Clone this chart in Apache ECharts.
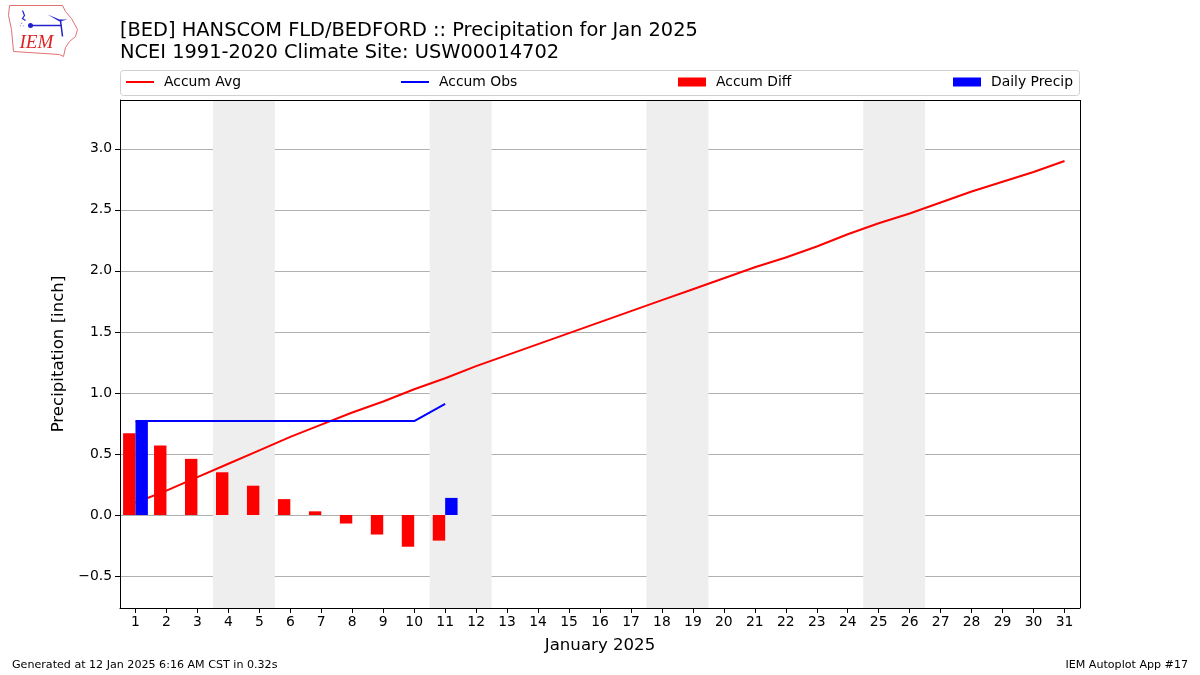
<!DOCTYPE html>
<html>
<head>
<meta charset="utf-8">
<script src="https://cdn.jsdelivr.net/npm/echarts@6/dist/echarts.min.js"></script>
<style>html,body{margin:0;padding:0;background:#fff}#c{width:1200px;height:675px}</style>
</head>
<body>
<div id="c"></div>
<script>
var days = [];
for (var i = 1; i <= 31; i++) days.push(String(i));
var accumAvg = [0.10,0.20,0.31,0.42,0.53,0.64,0.74,0.84,0.93,1.03,1.12,1.22,1.31,1.40,1.49,1.58,1.67,1.76,1.85,1.94,2.03,2.11,2.20,2.30,2.39,2.47,2.56,2.65,2.73,2.81,2.90];
var accumObs = [0.77,0.77,0.77,0.77,0.77,0.77,0.77,0.77,0.77,0.77,0.91];
var accumDiff = [0.67,0.57,0.46,0.35,0.24,0.13,0.03,-0.07,-0.16,-0.26,-0.21];
var dailyPrecip = [0.77,0,0,0,0,0,0,0,0,0,0.14];
var weekends = [[3.5,5.5],[10.5,12.5],[17.5,19.5],[24.5,26.5]];

var FONT = 'DejaVu Sans';
var chart = echarts.init(document.getElementById('c'), null, {renderer:'canvas'});

function legendBox(left, name, h) {
  return {
    left: left, top: 70, itemWidth: 28, itemHeight: h, icon: 'rect',
    data: [name],
    textStyle: {fontFamily: FONT, fontSize: 13.9, color: '#000', padding: [0,0,0,5]},
    selectedMode: false
  };
}

chart.setOption({
  animation: false,
  title: {
    text: '[BED] HANSCOM FLD/BEDFORD :: Precipitation for Jan 2025\nNCEI 1991-2020 Climate Site: USW00014702',
    left: 115, top: 15,
    textStyle: {fontFamily: FONT, fontSize: 19.4, fontWeight: 'normal', color: '#000', lineHeight: 22}
  },
  legend: [
    legendBox(121, 'Accum Avg', 2),
    legendBox(396, 'Accum Obs', 2),
    legendBox(673, 'Accum Diff', 9),
    legendBox(948, 'Daily Precip', 9)
  ],
  grid: {left: 120, right: 120, top: 100, bottom: 67, containLabel: false},
  xAxis: [{
    type: 'category', data: days, boundaryGap: true,
    position: 'bottom',
    name: 'January 2025', nameLocation: 'middle', nameGap: 29,
    nameTextStyle: {fontFamily: FONT, fontSize: 16.6, color: '#000'},
    axisLine: {show: true, onZero: false, lineStyle: {color: '#000', width: 1}},
    axisTick: {show: true, alignWithLabel: true, length: 5, lineStyle: {color: '#000'}},
    axisLabel: {fontFamily: FONT, fontSize: 13.9, color: '#000', margin: 7, interval: 0},
    splitLine: {show: false}
  }, {
    type: 'value', min: 0.5, max: 31.5, show: false
  }],
  yAxis: {
    type: 'value', min: -0.762, max: 3.40, splitNumber: 8,
    name: 'Precipitation [inch]', nameLocation: 'middle', nameGap: 43,
    nameTextStyle: {fontFamily: FONT, fontSize: 16.6, color: '#000'},
    axisLine: {show: true, lineStyle: {color: '#000'}},
    axisTick: {show: true, length: 5, lineStyle: {color: '#000'}},
    axisLabel: {fontFamily: FONT, fontSize: 13.9, color: '#000', margin: 8,
      showMinLabel: false, showMaxLabel: false,
      formatter: function (v) { return v.toFixed(1).replace('-', '\u2212'); }},
    splitLine: {show: true, lineStyle: {color: '#b0b0b0', width: 1}}
  },
  series: [{
    type: 'line', xAxisIndex: 1, data: [], silent: true, z: 1,
    markArea: {silent: true, itemStyle: {color: '#eeeeee'},
      data: weekends.map(function (w) { return [{xAxis: w[0]}, {xAxis: w[1]}]; })}
  }, {
    name: 'Accum Avg', type: 'line', data: accumAvg, symbol: 'none', z: 3,
    lineStyle: {color: '#ff0000', width: 2}, itemStyle: {color: '#ff0000'}
  }, {
    name: 'Accum Obs', type: 'line', data: accumObs, symbol: 'none', z: 3,
    lineStyle: {color: '#0000ff', width: 2}, itemStyle: {color: '#0000ff'}
  }, {
    name: 'Accum Diff', type: 'bar', data: accumDiff, barWidth: 12.4, barGap: '0%', z: 4,
    itemStyle: {color: '#ff0000'}
  }, {
    name: 'Daily Precip', type: 'bar', data: dailyPrecip, barWidth: 12.4, barGap: '0%', z: 4,
    itemStyle: {color: '#0000ff'}
  }, {
    type: 'line', data: [], xAxisIndex: 0, z: 10, silent: true,
    markLine: {silent: true, symbol: 'none', label: {show: false},
      lineStyle: {color: '#000', width: 1, type: 'solid'},
      data: [[{x: 1080.5, y: 100}, {x: 1080.5, y: 608}], [{x: 120, y: 100.5}, {x: 1080, y: 100.5}]]}
  }],
  graphic: [
    {type: 'rect', shape: {x: 120.5, y: 70.5, width: 959, height: 25, r: 3},
      style: {fill: 'none', stroke: '#d0d0d0', lineWidth: 1}, z: -1},
    {type: 'text', left: 12, top: 660, style: {text: 'Generated at 12 Jan 2025 6:16 AM CST in 0.32s', font: '11.1px "DejaVu Sans"', fill: '#000'}},
    {type: 'text', right: 12, top: 660, style: {text: 'IEM Autoplot App #17', font: '11.1px "DejaVu Sans"', fill: '#000'}},
    {type: 'group', left: 8, top: 5, children: [
      {type: 'polygon', shape: {points: [[2,1],[55,1],[58,7],[64,14],[70,25],[68,32],[62,37],[58,43],[56,52],[52,50],[6,47],[4,25],[1,11]]},
        style: {fill: '#fff', stroke: '#e07070', lineWidth: 1}},
      {type: 'text', x: 12, y: 29, style: {text: 'IEM', font: 'italic 19px "Liberation Serif"', fill: '#dd2222'}},
      {type: 'polyline', shape: {points: [[15,6],[17,11],[15,14],[18,16]]}, style: {stroke: '#2222cc', lineWidth: 1.2, fill: 'none'}},
      {type: 'circle', shape: {cx: 23, cy: 21, r: 2.5}, style: {fill: '#2222cc'}},
      {type: 'line', shape: {x1: 23, y1: 21, x2: 54, y2: 21}, style: {stroke: '#2222cc', lineWidth: 1.5}},
      {type: 'polygon', shape: {points: [[40,10],[52,15],[60,15],[52,17]]}, style: {fill: '#2222cc'}},
      {type: 'line', shape: {x1: 53, y1: 16, x2: 55, y2: 32}, style: {stroke: '#2222cc', lineWidth: 1.5}},
      {type: 'text', x: 12, y: 17, style: {text: '\u2234', font: '7px "DejaVu Sans"', fill: '#2222cc'}}
    ]}
  ]
});
</script>
</body>
</html>
